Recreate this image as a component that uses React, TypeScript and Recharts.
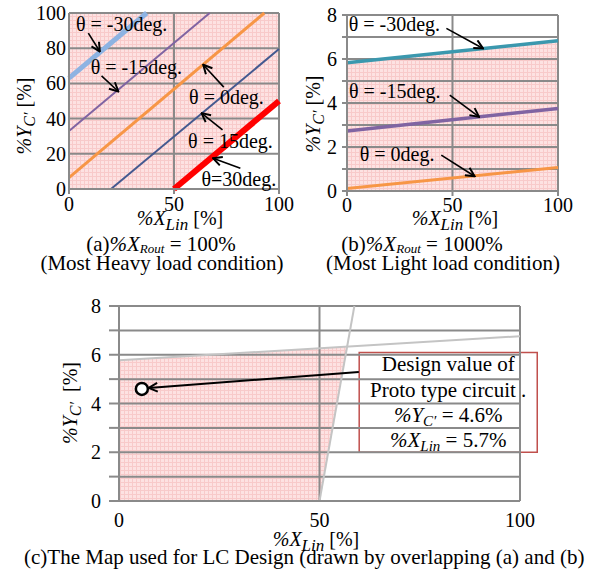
import React from 'react';
import {
  ComposedChart,
  Line,
  Area,
  XAxis,
  YAxis,
  CartesianGrid,
  ReferenceLine,
  ReferenceDot,
  ReferenceArea,
} from 'recharts';

const FONT = 'Liberation Serif, DejaVu Serif, Times New Roman, serif';
const GRID = '#8a8a8a';

// (a) %XRout = 100% (most heavy load)
const heavyTicksX = [0, 50, 100];
const heavyTicksY = [0, 20, 40, 60, 80, 100];
const heavyM30 = [{ x: 0, y: 63 }, { x: 37, y: 100 }];
const heavyM15 = [{ x: 0, y: 33 }, { x: 67, y: 100 }];
const heavy0 = [{ x: 0, y: 6.5 }, { x: 93, y: 100 }];
const heavy15 = [{ x: 20, y: 0 }, { x: 100, y: 79.5 }];
const heavy30 = [{ x: 50, y: 0 }, { x: 100, y: 50 }];
const heavyZone = [
  { x: 0, r: [0, 100] },
  { x: 50, r: [0, 100] },
  { x: 100, r: [50, 100] },
];
const heavyNotes = [
  { text: 'θ = -30deg.', x: 3.3, y: 89.9, from: [9.2, 88.6], to: [14.7, 78.1] },
  { text: 'θ = -15deg.', x: 10.3, y: 65.5, from: [15.5, 64.3], to: [23.5, 55.4] },
  { text: 'θ = 0deg.', x: 57.2, y: 48.4, from: [73.7, 57.9], to: [63.9, 70.6] },
  { text: 'θ = 15deg.', x: 56.7, y: 23.2, from: [73.1, 33.6], to: [63.1, 43.1] },
  { text: 'θ=30deg.', x: 63.1, y: 1.7, from: [81.6, 11.8], to: [68.6, 17.5] },
];

// (b) %XRout = 1000% (most light load)
const lightTicksX = [0, 50, 100];
const lightTicksY = [0, 1, 2, 3, 4, 5, 6, 7, 8];
const lightM30 = [{ x: 0, y: 5.83 }, { x: 100, y: 6.83 }];
const lightM15 = [{ x: 0, y: 2.73 }, { x: 100, y: 3.75 }];
const light0 = [{ x: 0, y: 0.11 }, { x: 100, y: 1.07 }];
const lightZone = [
  { x: 0, r: [0, 5.83] },
  { x: 100, r: [0, 6.83] },
];
const lightNotes = [
  { text: 'θ = -30deg.', x: 0.8, y: 7.27, from: [47.1, 7.39], to: [64.5, 6.48] },
  { text: 'θ = -15deg.', x: 0.95, y: 4.24, from: [48.7, 4.36], to: [62.6, 3.37] },
  { text: 'θ = 0deg.', x: 6.0, y: 1.37, from: [44.7, 1.63], to: [60.5, 0.67] },
];

// (c) overlapped map
const mapTicksX = [0, 50, 100];
const mapTicksY = [0, 1, 2, 3, 4, 5, 6, 7, 8];
const mapLightEdge = [{ x: 0, y: 5.77 }, { x: 100, y: 6.76 }];
const mapHeavyEdge = [{ x: 50, y: 0 }, { x: 58.7, y: 8 }];
const mapZone = [
  { x: 0, r: [0, 5.77] },
  { x: 50, r: [0, 6.27] },
  { x: 56.9, r: [6.33, 6.33] },
];
const designPoint = { x: 5.7, y: 4.6 };
const designArrow = { from: [59.8, 5.29], to: [7.4, 4.64] };
const designBox = { x1: 59.9, x2: 104.3, y1: 2.0, y2: 6.09 };

const Sub = ({ children, size = 0.72, drop = 0.32 }: any) => (
  <span style={{ fontSize: `${size}em`, position: 'relative', top: `${drop}em`, fontStyle: 'italic' }}>
    {children}
  </span>
);

const XLin = () => (
  <>
    <i>%X</i>
    <Sub size={0.85} drop={0.3}>Lin</Sub>
  </>
);

const YC = () => (
  <>
    <i>%Y</i>
    <Sub size={0.8} drop={0.25}>C′</Sub>
  </>
);

// centred line of text, placed by its baseline
const Caption = ({ cx, base, size = 21, left, children }: any) => (
  <div
    style={{
      position: 'absolute',
      left: left !== undefined ? left : cx,
      top: base - 0.84 * size,
      transform: left !== undefined ? undefined : 'translateX(-50%)',
      whiteSpace: 'nowrap',
      fontFamily: FONT,
      fontSize: size,
      lineHeight: `${size}px`,
      color: '#000',
    }}
  >
    {children}
  </div>
);

const VTitle = ({ cx, cy, size = 20, children }: any) => (
  <div
    style={{
      position: 'absolute',
      left: cx,
      top: cy,
      transform: 'translate(-50%, -50%) rotate(-90deg)',
      whiteSpace: 'nowrap',
      fontFamily: FONT,
      fontSize: size,
      lineHeight: `${size}px`,
      color: '#000',
    }}
  >
    {children}
  </div>
);

const yTick = (step: number) => (props: any) => {
  const { x, y, payload } = props;
  if (payload.value % step !== 0) return <g />;
  return (
    <text x={x} y={y} dy="0.35em" textAnchor="end" fontFamily={FONT} fontSize={20} fill="#000">
      {payload.value}
    </text>
  );
};

const xTickStyle = { fontSize: 20, fontFamily: FONT, fill: '#000' };
const axisStyle = { stroke: GRID, strokeWidth: 2 };

const Defs = ({ id }: { id: string }) => (
  <defs>
    <pattern id={`pink-${id}`} width="4" height="4" patternUnits="userSpaceOnUse">
      <rect width="4" height="4" fill="#fde2e2" />
      <path d="M0 0.5H4M0.5 0V4" stroke="#f8caca" strokeWidth="1" />
    </pattern>
    <marker
      id={`arrow-${id}`}
      viewBox="0 0 10 10"
      refX="9"
      refY="5"
      markerWidth="11"
      markerHeight="11"
      markerUnits="userSpaceOnUse"
      orient="auto"
    >
      <path d="M1,1 L9,5 L1,9" fill="none" stroke="#000" strokeWidth="1.8" />
    </marker>
  </defs>
);

const renderNotes = (notes: any[], id: string) =>
  notes.flatMap((n, i) => [
    <ReferenceLine
      key={`arrow-${id}-${i}`}
      segment={[{ x: n.from[0], y: n.from[1] }, { x: n.to[0], y: n.to[1] }]}
      ifOverflow="visible"
      shape={(p: any) => (
        <line x1={p.x1} y1={p.y1} x2={p.x2} y2={p.y2} stroke="#000" strokeWidth={1.6} markerEnd={`url(#arrow-${id})`} />
      )}
    />,
    <ReferenceDot
      key={`note-${id}-${i}`}
      x={n.x}
      y={n.y}
      ifOverflow="visible"
      shape={(p: any) => (
        <text x={p.cx} y={p.cy} fontFamily={FONT} fontSize={20} fill="#000">
          {n.text}
        </text>
      )}
    />,
  ]);

const HeavyChart = () => (
  <ComposedChart width={295} height={230} margin={{ top: 13, right: 16, bottom: 11, left: 19 }}>
    <Defs id="a" />
    <XAxis
      type="number"
      dataKey="x"
      domain={[0, 100]}
      ticks={heavyTicksX}
      interval={0}
      height={30}
      tickSize={5}
      tickMargin={3}
      tickLine={axisStyle}
      axisLine={axisStyle}
      tick={xTickStyle}
    />
    <YAxis
      type="number"
      domain={[0, 100]}
      ticks={heavyTicksY}
      interval={0}
      width={50}
      tickSize={0}
      tickMargin={3}
      tickLine={false}
      axisLine={axisStyle}
      tick={yTick(20)}
    />
    <Area data={heavyZone} dataKey="r" stroke="none" fill="url(#pink-a)" fillOpacity={1} isAnimationActive={false} />
    <CartesianGrid
      stroke={GRID}
      strokeWidth={2}
      horizontalValues={heavyTicksY}
      verticalValues={heavyTicksX}
      zIndex={150}
    />
    <Line data={heavyM30} dataKey="y" stroke="#8db3e2" strokeWidth={5} dot={false} isAnimationActive={false} />
    <Line data={heavyM15} dataKey="y" stroke="#8064a2" strokeWidth={2} dot={false} isAnimationActive={false} />
    <Line data={heavy0} dataKey="y" stroke="#f79646" strokeWidth={3} dot={false} isAnimationActive={false} />
    <Line data={heavy15} dataKey="y" stroke="#44598f" strokeWidth={2} dot={false} isAnimationActive={false} />
    <Line data={heavy30} dataKey="y" stroke="#ff0000" strokeWidth={6} dot={false} isAnimationActive={false} />
    {renderNotes(heavyNotes, 'a')}
  </ComposedChart>
);

const LightChart = () => (
  <ComposedChart width={296} height={230} margin={{ top: 15, right: 33, bottom: 9, left: 12 }}>
    <Defs id="b" />
    <XAxis
      type="number"
      dataKey="x"
      domain={[0, 100]}
      ticks={lightTicksX}
      interval={0}
      height={30}
      tickSize={5}
      tickMargin={2}
      tickLine={axisStyle}
      axisLine={axisStyle}
      tick={xTickStyle}
    />
    <YAxis
      type="number"
      domain={[0, 8]}
      ticks={lightTicksY}
      interval={0}
      width={40}
      tickSize={5}
      tickMargin={5}
      tickLine={axisStyle}
      axisLine={axisStyle}
      tick={yTick(2)}
    />
    <Area data={lightZone} dataKey="r" stroke="none" fill="url(#pink-b)" fillOpacity={1} isAnimationActive={false} />
    <CartesianGrid
      stroke={GRID}
      strokeWidth={2}
      horizontalValues={lightTicksY}
      verticalValues={lightTicksX}
      zIndex={150}
    />
    <Line data={lightM30} dataKey="y" stroke="#3b98ae" strokeWidth={3.5} dot={false} isAnimationActive={false} />
    <Line data={lightM15} dataKey="y" stroke="#8064a2" strokeWidth={3.5} dot={false} isAnimationActive={false} />
    <Line data={light0} dataKey="y" stroke="#f79646" strokeWidth={3} dot={false} isAnimationActive={false} />
    {renderNotes(lightNotes, 'b')}
  </ComposedChart>
);

const DesignLabel = ({ viewBox }: any) => {
  if (!viewBox) return null;
  const cx = viewBox.x + viewBox.width / 2;
  const top = viewBox.y;
  return (
    <g fontFamily={FONT} fontSize={21} fill="#000" textAnchor="middle">
      <text x={cx} y={top + 18}>Design value of</text>
      <text x={cx} y={top + 44}>Proto type circuit .</text>
      <text x={cx} y={top + 69}>
        <tspan fontStyle="italic">%Y</tspan>
        <tspan fontStyle="italic" fontSize={15} dy={4}>C′</tspan>
        <tspan dy={-4}>{` = ${designPoint.y}%`}</tspan>
      </text>
      <text x={cx} y={top + 94}>
        <tspan fontStyle="italic">%X</tspan>
        <tspan fontStyle="italic" fontSize={15} dy={4}>Lin</tspan>
        <tspan dy={-4}>{` = ${designPoint.x}%`}</tspan>
      </text>
    </g>
  );
};

const MapChart = () => (
  <ComposedChart width={591} height={283} margin={{ top: 16, right: 71, bottom: 42, left: 69 }}>
    <Defs id="c" />
    <XAxis
      type="number"
      dataKey="x"
      domain={[0, 100]}
      ticks={mapTicksX}
      interval={0}
      height={30}
      tickSize={0}
      tickMargin={12}
      tickLine={false}
      axisLine={axisStyle}
      tick={xTickStyle}
    />
    <YAxis
      type="number"
      domain={[0, 8]}
      ticks={mapTicksY}
      interval={0}
      width={50}
      tickSize={10}
      tickMargin={8}
      tickLine={axisStyle}
      axisLine={axisStyle}
      tick={yTick(2)}
    />
    <Area data={mapZone} dataKey="r" stroke="none" fill="url(#pink-c)" fillOpacity={1} isAnimationActive={false} />
    <CartesianGrid
      stroke={GRID}
      strokeWidth={2}
      horizontalValues={mapTicksY}
      verticalValues={mapTicksX}
      zIndex={150}
    />
    <Line data={mapLightEdge} dataKey="y" stroke="#c4c4c4" strokeWidth={2} dot={false} isAnimationActive={false} />
    <Line data={mapHeavyEdge} dataKey="y" stroke="#c4c4c4" strokeWidth={2} dot={false} isAnimationActive={false} />
    <ReferenceArea
      x1={designBox.x1}
      x2={designBox.x2}
      y1={designBox.y1}
      y2={designBox.y2}
      ifOverflow="visible"
      fill="#ffffff"
      fillOpacity={1}
      stroke="#c0504d"
      strokeWidth={1.5}
      label={<DesignLabel />}
    />
    <ReferenceLine
      segment={[
        { x: designArrow.from[0], y: designArrow.from[1] },
        { x: designArrow.to[0], y: designArrow.to[1] },
      ]}
      ifOverflow="visible"
      shape={(p: any) => (
        <line x1={p.x1} y1={p.y1} x2={p.x2} y2={p.y2} stroke="#000" strokeWidth={2} markerEnd="url(#arrow-c)" />
      )}
    />
    <ReferenceDot
      x={designPoint.x}
      y={designPoint.y}
      r={6}
      fill="#ffffff"
      stroke="#000"
      strokeWidth={2.5}
      ifOverflow="visible"
    />
  </ComposedChart>
);

export default function App() {
  return (
    <div style={{ position: 'absolute', left: 0, top: 0, width: 591, height: 573, background: '#fff', overflow: 'hidden' }}>
      <div style={{ position: 'absolute', left: 0, top: 0 }}>
        <HeavyChart />
      </div>
      <div style={{ position: 'absolute', left: 295, top: 0 }}>
        <LightChart />
      </div>
      <div style={{ position: 'absolute', left: 0, top: 290 }}>
        <MapChart />
      </div>

      <VTitle cx={25} cy={116}>
        <YC /> [%]
      </VTitle>
      <VTitle cx={314} cy={114}>
        <YC /> [%]
      </VTitle>
      <VTitle cx={71} cy={403}>
        <YC />
        {'\u00a0\u00a0[%]'}
      </VTitle>

      <Caption cx={180} base={225} size={20}>
        <XLin /> [%]
      </Caption>
      <Caption cx={455} base={225} size={20}>
        <XLin /> [%]
      </Caption>
      <Caption cx={316} base={546} size={20}>
        <XLin /> [%]
      </Caption>

      <Caption cx={161} base={252}>
        (a)<i>%X</i>
        <Sub size={0.62} drop={0.15}>Rout</Sub> = 100%
      </Caption>
      <Caption cx={162} base={271}>(Most Heavy load condition)</Caption>
      <Caption cx={422} base={252}>
        (b)<i>%X</i>
        <Sub size={0.62} drop={0.15}>Rout</Sub> = 1000%
      </Caption>
      <Caption cx={443} base={271}>(Most Light load condition)</Caption>
      <Caption left={24} base={565}>
        (c)The Map used for LC Design (drawn by overlapping (a) and (b)
      </Caption>
    </div>
  );
}
